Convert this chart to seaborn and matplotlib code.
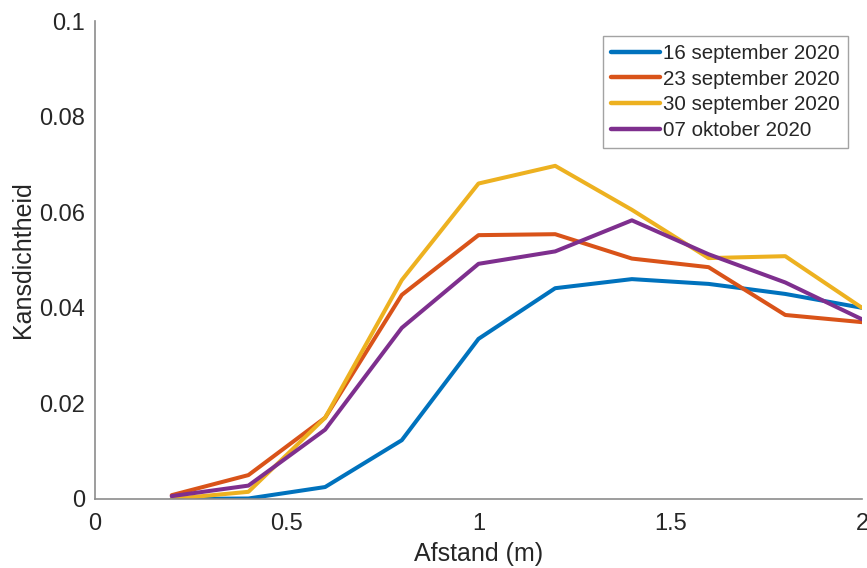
import numpy as np
import pandas as pd
import matplotlib
matplotlib.use("Agg")
import matplotlib.pyplot as plt
import seaborn as sns

afstand = [0.2, 0.4, 0.6, 0.8, 1.0, 1.2, 1.4, 1.6, 1.8, 2.0]
sep16 = [0.0000, 0.0001, 0.0025, 0.0123, 0.0335, 0.0441, 0.0460, 0.0450, 0.0429, 0.0400]
sep23 = [0.0008, 0.0050, 0.0170, 0.0427, 0.0552, 0.0554, 0.0503, 0.0485, 0.0385, 0.0370]
sep30 = [0.0000, 0.0015, 0.0170, 0.0458, 0.0660, 0.0697, 0.0605, 0.0504, 0.0508, 0.0400]
okt07 = [0.0006, 0.0028, 0.0145, 0.0358, 0.0492, 0.0518, 0.0583, 0.0512, 0.0453, 0.0376]
labels = ["16 september 2020", "23 september 2020", "30 september 2020", "07 oktober 2020"]
colors = ["#0072BD", "#D95319", "#EDB120", "#7E2F8E"]

frames = []
for lab, vals in zip(labels, [sep16, sep23, sep30, okt07]):
    frames.append(pd.DataFrame({"Afstand": afstand, "Kans": vals, "Datum": lab}))
df = pd.concat(frames, ignore_index=True)

sns.set_style("white")
plt.rcParams['font.family'] = ['Liberation Sans', 'DejaVu Sans']

fig = plt.figure(figsize=(8.67, 5.68), dpi=100)
ax = fig.add_axes([0.1096, 0.1215, 0.8846, 0.8415])
sns.lineplot(data=df, x="Afstand", y="Kans", hue="Datum", hue_order=labels,
             palette=colors, linewidth=2.9, ax=ax, legend=True)

ax.set_xlim(0, 2)
ax.set_ylim(0, 0.1)
ax.set_xticks([0, 0.5, 1, 1.5, 2])
ax.set_xticklabels(["0", "0.5", "1", "1.5", "2"])
ax.set_yticks([0, 0.02, 0.04, 0.06, 0.08, 0.1])
ax.set_yticklabels(["0", "0.02", "0.04", "0.06", "0.08", "0.1"])
ax.set_xlabel("Afstand (m)", fontsize=18, color="#262626", labelpad=5)
ax.set_ylabel("Kansdichtheid", fontsize=18, color="#262626", labelpad=3)
for s in ["top", "right"]:
    ax.spines[s].set_visible(False)
for s in ["left", "bottom"]:
    ax.spines[s].set_color("#8c8c8c")
    ax.spines[s].set_linewidth(1.2)
ax.tick_params(axis="both", direction="in", length=6, width=1, color="#8c8c8c",
               labelsize=17, labelcolor="#262626", pad=7)
ax.tick_params(axis="x", pad=10)

leg = ax.legend(loc="upper right", bbox_to_anchor=(0.982, 0.969), fontsize=14.8,
                frameon=True, fancybox=False, edgecolor="#8c8c8c",
                handlelength=2.4, handletextpad=0.15, labelspacing=0.32,
                borderpad=0.4, borderaxespad=0)
leg.get_frame().set_linewidth(1.0)
for line in leg.get_lines():
    line.set_linewidth(3.2)

fig.savefig("out.png", dpi=100)
